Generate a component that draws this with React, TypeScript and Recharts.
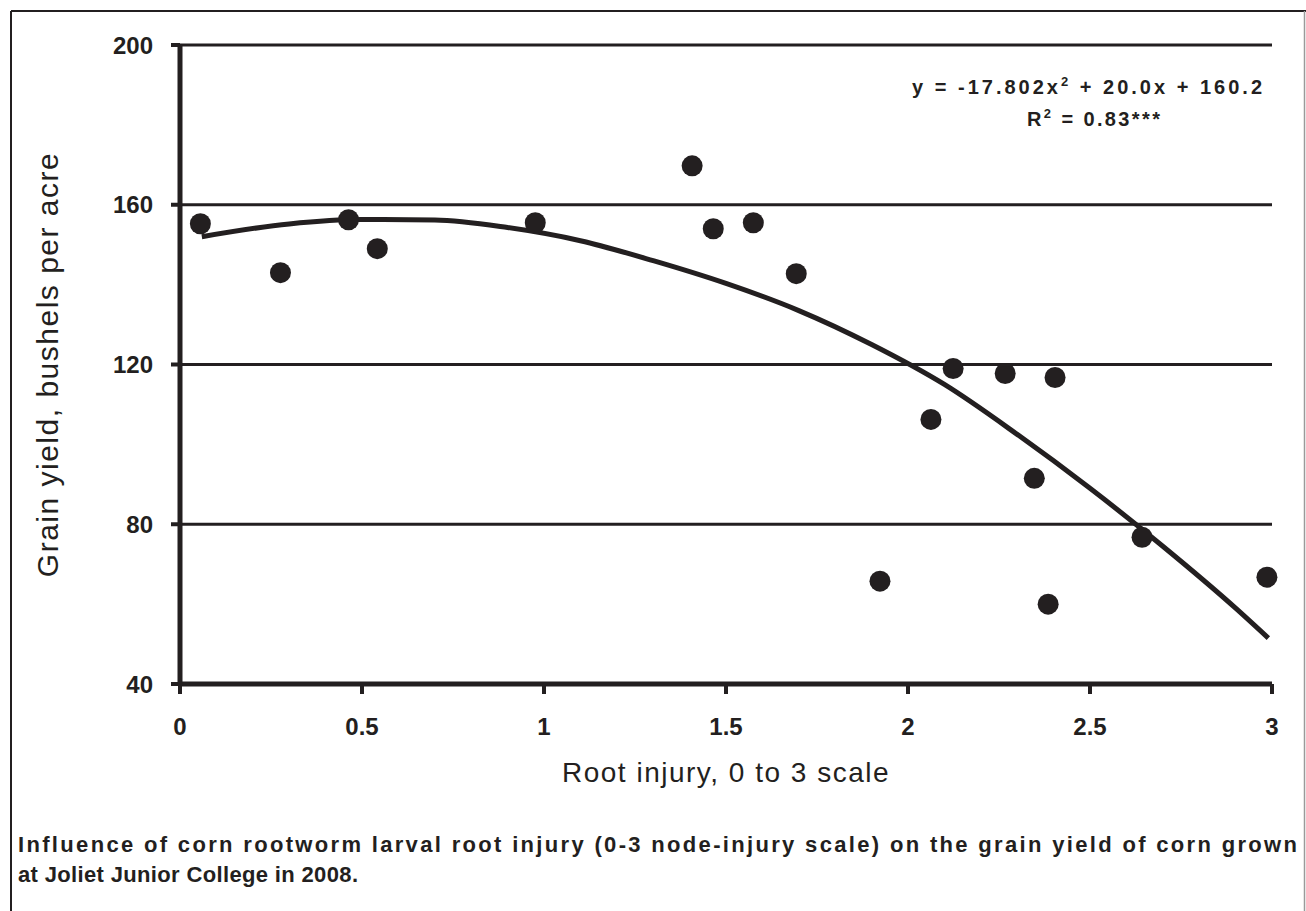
import React from 'react';
import { ComposedChart, Scatter, Line, XAxis, YAxis, CartesianGrid, Customized } from 'recharts';

// plot readings: root injury (0-3 node-injury scale) vs grain yield (bu/acre)
const injury = [0.056, 0.276, 0.463, 0.542, 0.976, 1.407, 1.465, 1.575, 1.693, 1.923, 2.063, 2.124, 2.267, 2.347, 2.385, 2.404, 2.643, 2.986];
const grainYield = [155.25, 143, 156.25, 149, 155.5, 169.75, 154, 155.5, 142.75, 65.75, 106.25, 119, 117.75, 91.5, 60, 116.75, 76.75, 66.75];

// fitted curve as drawn on the figure
const trendX = [0.06, 0.3, 0.5, 0.7, 0.9, 1.1, 1.3, 1.5, 1.7, 1.9, 2.1, 2.3, 2.5, 2.7, 2.9, 2.99];
const trendY = [152, 155.2, 156.3, 156.2, 154.3, 151, 146, 140.3, 133.5, 125, 115, 102.5, 89, 74.5, 59, 51.5];

const xTicks = [0, 0.5, 1, 1.5, 2, 2.5, 3];
const yTicks = [40, 80, 120, 160, 200];

const INK = '#231f20';
const FONT = '"Liberation Sans", Arial, sans-serif';

const points = injury.map((x, i) => ({ x, y: grainYield[i] }));
const trend = trendX.map((x, i) => ({ x, y: trendY[i] }));

const Decorations = () => (
  <g>
    <line x1={11} y1={11} x2={1306} y2={11} stroke={INK} strokeWidth={2} />
    <line x1={11} y1={11} x2={11} y2={911} stroke={INK} strokeWidth={2} />
    <line x1={1304.5} y1={11} x2={1304.5} y2={911} stroke="#9a9a9a" strokeWidth={1.5} />
    <text x={912} y={94} fontFamily={FONT} fontSize={20} fontWeight="bold" fill={INK} textLength={350} lengthAdjust="spacing">
      y = -17.802x<tspan dy={-8} fontSize={13}>2</tspan><tspan dy={8}> + 20.0x + 160.2</tspan>
    </text>
    <text x={1027} y={126} fontFamily={FONT} fontSize={20} fontWeight="bold" fill={INK} textLength={133} lengthAdjust="spacing">
      R<tspan dy={-8} fontSize={13}>2</tspan><tspan dy={8}> = 0.83***</tspan>
    </text>
    <text x={18} y={852} fontFamily={FONT} fontSize={22} fontWeight="bold" fill={INK} textLength={1279} lengthAdjust="spacing">
      Influence of corn rootworm larval root injury (0-3 node-injury scale) on the grain yield of corn grown
    </text>
    <text x={18} y={882} fontFamily={FONT} fontSize={22} fontWeight="bold" fill={INK} textLength={340} lengthAdjust="spacing">
      at Joliet Junior College in 2008.
    </text>
  </g>
);

const Dot = (p: any) => <circle cx={p.cx} cy={p.cy} r={10.5} fill={INK} />;

export default function App() {
  return (
    <div style={{ position: 'absolute', left: 0, top: 0, width: 1306, height: 911, background: '#fff' }}>
      <ComposedChart
        width={1306}
        height={911}
        margin={{ top: 45, right: 34, left: 30, bottom: 197 }}
      >
        <CartesianGrid horizontal vertical={false} stroke={INK} strokeWidth={3} />
        <XAxis
          type="number"
          dataKey="x"
          domain={[0, 3]}
          ticks={xTicks}
          height={30}
          axisLine={{ stroke: INK, strokeWidth: 5 }}
          tickLine={{ stroke: INK, strokeWidth: 4 }}
          tickSize={10}
          tickMargin={24}
          tick={{ fill: INK, fontSize: 24, fontWeight: 'bold', fontFamily: FONT }}
          label={{
            value: 'Root injury, 0 to 3 scale',
            position: 'bottom',
            offset: 48,
            fill: INK,
            fontSize: 28,
            fontFamily: FONT,
            style: { letterSpacing: 1.5 },
          }}
        />
        <YAxis
          type="number"
          dataKey="y"
          domain={[40, 200]}
          ticks={yTicks}
          width={150}
          axisLine={{ stroke: INK, strokeWidth: 5 }}
          tickLine={{ stroke: INK, strokeWidth: 4 }}
          tickSize={9}
          tickMargin={18}
          tick={{ fill: INK, fontSize: 24, fontWeight: 'bold', fontFamily: FONT }}
          label={{
            value: 'Grain yield, bushels per acre',
            angle: -90,
            position: 'insideLeft',
            offset: 17,
            fill: INK,
            fontSize: 30,
            fontFamily: FONT,
            style: { textAnchor: 'middle', letterSpacing: 1.5 },
          }}
        />
        <Line
          data={trend}
          dataKey="y"
          type="monotone"
          stroke={INK}
          strokeWidth={5}
          dot={false}
          activeDot={false}
          isAnimationActive={false}
        />
        <Scatter data={points} dataKey="y" fill={INK} shape={Dot} isAnimationActive={false} />
        <Customized component={Decorations} />
      </ComposedChart>
    </div>
  );
}
